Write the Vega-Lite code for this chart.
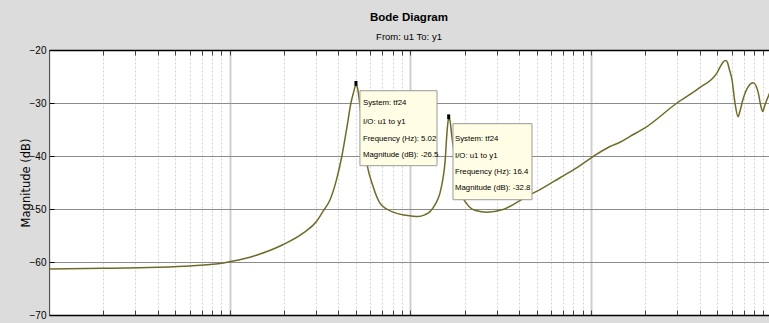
{
  "$schema": "https://vega.github.io/schema/vega-lite/v6.json",
  "width": 720,
  "height": 265,
  "autosize": {"type": "none"},
  "padding": {"left": 49, "top": 50, "right": 0, "bottom": 8},
  "background": "#dcdcdc",
  "title": {
    "text": "Bode Diagram",
    "subtitle": "From: u1  To: y1",
    "anchor": "middle",
    "font": "Liberation Sans",
    "fontSize": 11.5,
    "fontWeight": "bold",
    "color": "black",
    "subtitleFont": "Liberation Sans",
    "subtitleFontSize": 9.5,
    "subtitleColor": "black",
    "subtitlePadding": 8,
    "offset": 4
  },
  "config": {
    "view": {"stroke": null, "fill": "white"}
  },
  "datasets": {
    "curve": [
      {"f": 0.1, "db": -61.3}, {"f": 0.2, "db": -61.2}, {"f": 0.4, "db": -61.0},
      {"f": 0.6, "db": -60.75}, {"f": 0.884, "db": -60.3}, {"f": 1.0, "db": -59.95},
      {"f": 1.35, "db": -58.9}, {"f": 1.98, "db": -56.7}, {"f": 2.56, "db": -54.5},
      {"f": 3.03, "db": -52.3}, {"f": 3.29, "db": -50.4}, {"f": 3.59, "db": -48.3},
      {"f": 3.9, "db": -44.5}, {"f": 4.18, "db": -40.0}, {"f": 4.46, "db": -34.5},
      {"f": 4.69, "db": -30.0}, {"f": 4.85, "db": -28.0}, {"f": 4.96, "db": -26.8},
      {"f": 5.02, "db": -26.5}, {"f": 5.09, "db": -27.0}, {"f": 5.2, "db": -29.0},
      {"f": 5.4, "db": -34.0}, {"f": 5.76, "db": -41.6}, {"f": 6.2, "db": -45.6},
      {"f": 6.79, "db": -48.9}, {"f": 7.4, "db": -50.0},
      {"f": 8.02, "db": -50.6}, {"f": 9.2, "db": -51.15}, {"f": 10.34, "db": -51.35},
      {"f": 11.03, "db": -51.4}, {"f": 12.0, "db": -51.1}, {"f": 12.85, "db": -50.5},
      {"f": 13.8, "db": -49.0}, {"f": 14.59, "db": -47.0}, {"f": 15.2, "db": -44.0},
      {"f": 15.55, "db": -41.3}, {"f": 15.96, "db": -35.5}, {"f": 16.2, "db": -33.3},
      {"f": 16.4, "db": -32.8}, {"f": 16.6, "db": -33.4}, {"f": 17.0, "db": -36.5},
      {"f": 17.6, "db": -40.0}, {"f": 18.83, "db": -46.5}, {"f": 20.5, "db": -49.0},
      {"f": 23.0, "db": -50.3}, {"f": 26.57, "db": -50.6}, {"f": 32.58, "db": -50.1},
      {"f": 44.23, "db": -47.6}, {"f": 54.25, "db": -46.0}, {"f": 67.35, "db": -44.1},
      {"f": 83.63, "db": -42.2}, {"f": 102.6, "db": -40.1}, {"f": 127.4, "db": -38.2},
      {"f": 144.7, "db": -37.4}, {"f": 164.4, "db": -36.3}, {"f": 199.0, "db": -34.7},
      {"f": 299.1, "db": -30.0}, {"f": 396.0, "db": -27.2}, {"f": 498.2, "db": -24.3},
      {"f": 530.9, "db": -22.6}, {"f": 548, "db": -22.05}, {"f": 558.7, "db": -22.0},
      {"f": 570, "db": -22.4}, {"f": 580.5, "db": -23.4}, {"f": 603.1, "db": -25.6},
      {"f": 626.6, "db": -30.0}, {"f": 651.1, "db": -32.6}, {"f": 668, "db": -31.5},
      {"f": 694, "db": -29.3}, {"f": 742, "db": -26.9}, {"f": 791, "db": -26.2},
      {"f": 843, "db": -28.1}, {"f": 870, "db": -30.5}, {"f": 892, "db": -31.6},
      {"f": 915, "db": -30.5}, {"f": 966.5, "db": -28.4}, {"f": 1000, "db": -27.2}
    ],
    "boxes": [
      {"f1": 5.26, "f2": 14.05, "d1": -27.68, "d2": -41.83},
      {"f1": 17.22, "f2": 47.14, "d1": -33.9, "d2": -48.25}
    ],
    "markers": [
      {"f": 5.0, "db": -26.3},
      {"f": 16.3, "db": -32.6}
    ],
    "labels": [
      {"f": 5.47, "db": -29.96, "t": "System: tf24"},
      {"f": 5.47, "db": -33.55, "t": "I/O: u1 to y1"},
      {"f": 5.47, "db": -36.75, "t": "Frequency (Hz): 5.02"},
      {"f": 5.47, "db": -39.75, "t": "Magnitude (dB): -26.5"},
      {"f": 17.67, "db": -36.75, "t": "System: tf24"},
      {"f": 17.67, "db": -39.94, "t": "I/O: u1 to y1"},
      {"f": 17.67, "db": -42.96, "t": "Frequency (Hz): 16.4"},
      {"f": 17.67, "db": -45.98, "t": "Magnitude (dB): -32.8"}
    ]
  },
  "resolve": {"axis": {"x": "independent", "y": "independent"}},
  "layer": [
    {
      "data": {"name": "curve"},
      "mark": {"type": "line", "color": "#6f6b28", "strokeWidth": 1.5, "clip": true, "interpolate": "monotone"},
      "encoding": {
        "x": {
          "field": "f", "type": "quantitative",
          "scale": {"type": "log", "domain": [0.1, 966.5], "nice": false},
          "axis": {
            "orient": "bottom",
            "title": null,
            "labels": false,
            "values": [0.1,0.2,0.3,0.4,0.5,0.6,0.7,0.8,0.9,1,2,3,4,5,6,7,8,9,10,20,30,40,50,60,70,80,90,100,200,300,400,500,600,700,800,900],
            "tickSize": -5,
            "tickColor": "#444444",
            "domainColor": "black",
            "domainWidth": 1.5,
            "grid": true,
            "gridColor": {"condition": {"test": "datum.value == 0.1 || datum.value == 1 || datum.value == 10 || datum.value == 100", "value": "#cfcfcf"}, "value": "#d4d4d4"},
            "gridWidth": {"condition": {"test": "datum.value == 0.1 || datum.value == 1 || datum.value == 10 || datum.value == 100", "value": 2}, "value": 1},
            "gridDash": {"condition": {"test": "datum.value == 0.1 || datum.value == 1 || datum.value == 10 || datum.value == 100", "value": []}, "value": [2, 2]}
          }
        },
        "y": {
          "field": "db", "type": "quantitative",
          "scale": {"domain": [-70, -20], "nice": false},
          "axis": {
            "title": "Magnitude (dB)",
            "titleFont": "DejaVu Sans",
            "titleFontSize": 11.5,
            "titleFontWeight": "normal",
            "titleColor": "black",
            "titlePadding": -2,
            "values": [-70, -60, -50, -40, -30, -20],
            "labelFont": "Liberation Sans",
            "labelFontSize": 10,
            "labelColor": "black",
            "labelPadding": 8,
            "tickSize": -5,
            "tickColor": "black",
            "domainColor": "#555555",
            "grid": true,
            "gridColor": "#8c8c8c",
            "gridWidth": 1
          }
        }
      }
    },
    {
      "data": {"name": "boxes"},
      "mark": {"type": "rect", "fill": "#fffde4", "stroke": "#9a9a9a", "strokeWidth": 1},
      "encoding": {
        "x": {
          "field": "f1", "type": "quantitative",
          "axis": {
            "orient": "top",
            "title": null,
            "labels": false,
            "grid": false,
            "values": [0.1,0.2,0.3,0.4,0.5,0.6,0.7,0.8,0.9,1,2,3,4,5,6,7,8,9,10,20,30,40,50,60,70,80,90,100,200,300,400,500,600,700,800,900],
            "tickSize": -5,
            "tickColor": "#444444",
            "domainColor": "black",
            "domainWidth": 1.5
          }
        },
        "x2": {"field": "f2"},
        "y": {"field": "d1", "type": "quantitative", "axis": null},
        "y2": {"field": "d2"}
      }
    },
    {
      "data": {"name": "markers"},
      "mark": {"type": "point", "filled": true, "color": "black", "opacity": 1, "shape": "M-0.5,-0.8L0.5,-0.8L0.5,0.8L-0.5,0.8Z", "size": 36},
      "encoding": {
        "x": {"field": "f", "type": "quantitative", "axis": null},
        "y": {"field": "db", "type": "quantitative", "axis": null}
      }
    },
    {
      "data": {"name": "labels"},
      "mark": {"type": "text", "align": "left", "baseline": "middle", "font": "Liberation Sans", "fontSize": 7.8, "color": "black"},
      "encoding": {
        "x": {"field": "f", "type": "quantitative", "axis": null},
        "y": {"field": "db", "type": "quantitative", "axis": null},
        "text": {"field": "t"}
      }
    }
  ]
}
